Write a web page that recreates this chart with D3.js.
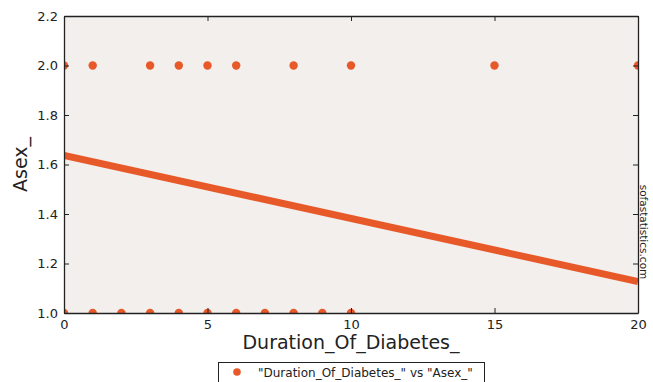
<!DOCTYPE html>
<html><head><meta charset="utf-8">
<script src="https://cdn.jsdelivr.net/npm/d3@7"></script>
<style>body{margin:0;background:#fff}svg{display:block}text{font-family:"DejaVu Sans",sans-serif;fill:#222}</style>
</head><body><svg id="c" width="653" height="382"></svg>
<script>
const xTicks = [0, 5, 10, 15, 20];
const yTicks = [1.0, 1.2, 1.4, 1.6, 1.8, 2.0, 2.2];
const durationValues = [0,1,3,4,5,6,8,10,15,20, 0,1,2,3,4,5,6,7,8,9,10];
const asexValues     = [2,2,2,2,2,2,2,2,2,2,   1,1,1,1,1,1,1,1,1,1,1];
const trendX = [0, 20];
const trendY = [1.637, 1.127];
const xLabel = "Duration_Of_Diabetes_";
const yLabel = "Asex_";
const legendLabel = '"Duration_Of_Diabetes_" vs "Asex_"';

const svg = d3.select("#c");
const L = 64, R = 638, T = 16, B = 313;
const x = d3.scaleLinear().domain([0, 20]).range([L, R]);
const y = d3.scaleLinear().domain([1.0, 2.2]).range([B, T]);
const orange = "#e8592a";

svg.append("rect").attr("x", L).attr("y", T).attr("width", R - L).attr("height", B - T).attr("fill", "#f2efec");

const clip = svg.append("clipPath").attr("id", "pc");
clip.append("rect").attr("x", L).attr("y", T).attr("width", R - L).attr("height", B - T);

// trend line
svg.append("line").attr("clip-path", "url(#pc)")
  .attr("x1", x(trendX[0])).attr("y1", y(trendY[0]))
  .attr("x2", x(trendX[1])).attr("y2", y(trendY[1]))
  .attr("stroke", orange).attr("stroke-width", 7);

// points
svg.append("g").attr("clip-path", "url(#pc)").selectAll("circle")
  .data(durationValues.map((d, i) => [d, asexValues[i]]))
  .join("circle").attr("cx", d => x(d[0])).attr("cy", d => y(d[1])).attr("r", 4.2).attr("fill", orange);

// axes (ticks inward)
const ax = svg.append("g").attr("transform", `translate(0,${B})`)
  .call(d3.axisBottom(x).tickValues(xTicks).tickFormat(d3.format("d")).tickSizeInner(-5).tickSizeOuter(0).tickPadding(8));
const axT = svg.append("g").attr("transform", `translate(0,${T})`)
  .call(d3.axisTop(x).tickValues(xTicks).tickSizeInner(-5).tickSizeOuter(0).tickFormat(""));
const ay = svg.append("g").attr("transform", `translate(${L},0)`)
  .call(d3.axisLeft(y).tickValues(yTicks).tickFormat(d3.format(".1f")).tickSizeInner(-5).tickSizeOuter(0).tickPadding(6));
const ayR = svg.append("g").attr("transform", `translate(${R},0)`)
  .call(d3.axisRight(y).tickValues(yTicks).tickSizeInner(-5).tickSizeOuter(0).tickFormat(""));
[ax, axT, ay, ayR].forEach(g => {
  g.select(".domain").attr("stroke", "#222").attr("stroke-width", 1.3);
  g.selectAll(".tick line").attr("stroke", "#222");
  g.selectAll(".tick text").attr("font-size", 13).attr("fill", "#222").attr("font-family", "DejaVu Sans");
});
ax.selectAll(".tick text").attr("dy", "0.6em");

svg.append("text").attr("x", (L + R) / 2).attr("y", 349).attr("text-anchor", "middle")
  .attr("font-size", 19).text(xLabel);
svg.append("text").attr("transform", `translate(27,${(T + B) / 2}) rotate(-90)`).attr("text-anchor", "middle")
  .attr("font-size", 19).text(yLabel);

svg.append("text").attr("transform", `translate(640,232) rotate(90)`).attr("text-anchor", "middle")
  .attr("font-size", 10.5).text("sofastatistics.com");

// legend
const lg = svg.append("g");
lg.append("rect").attr("x", 218.5).attr("y", 362.5).attr("width", 266).attr("height", 30)
  .attr("fill", "#fff").attr("stroke", "#222").attr("stroke-width", 1);
lg.append("circle").attr("cx", 237).attr("cy", 372).attr("r", 3.8).attr("fill", orange);
lg.append("text").attr("x", 258).attr("y", 377).attr("font-size", 12).text(legendLabel);
</script></body></html>
